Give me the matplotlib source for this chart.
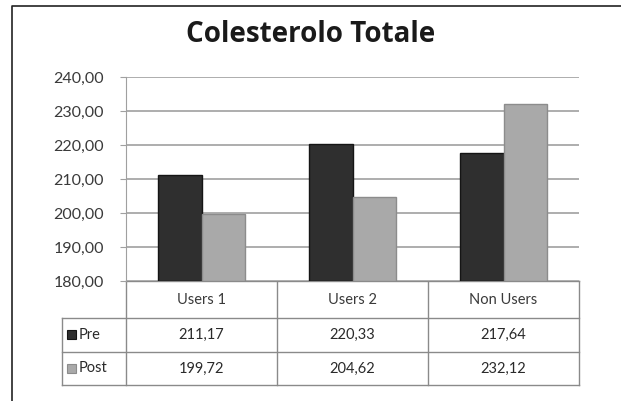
import numpy as np
import matplotlib
matplotlib.use('Agg')
import matplotlib.pyplot as plt
from matplotlib.patches import Rectangle

plt.rcParams['font.family'] = ['Lato', 'DejaVu Sans']

# dati
categorie = ['Users 1', 'Users 2', 'Non Users']
serie = ['Pre', 'Post']
pre = [211.17, 220.33, 217.64]
post = [199.72, 204.62, 232.12]
colori = ['#2f2f2f', '#a9a9a9']
bordi = ['#151515', '#8c8c8c']


def fmt(v):
    return ('%.2f' % v).replace('.', ',')


W, H = 621, 401
fig = plt.figure(figsize=(W / 100, H / 100), dpi=100)

# cornice esterna
over = fig.add_axes([0, 0, 1, 1])
over.set_xlim(0, W)
over.set_ylim(H, 0)
over.axis('off')
over.plot([12, 12, W], [H, 6, 6], color='#222222', lw=1.2)

# area grafico
x0, x1, ytop, ybot = 126, 579, 77, 281
ax = fig.add_axes([x0 / W, 1 - ybot / H, (x1 - x0) / W, (ybot - ytop) / H])
x = np.arange(len(categorie))
w = 0.29
valori = [pre, post]
for i in range(2):
    ax.bar(x + (i - 0.5) * w, np.array(valori[i]) - 180, bottom=180, width=w,
           color=colori[i], edgecolor=bordi[i], linewidth=1.0, zorder=3)
ax.set_xlim(-0.5, len(categorie) - 0.5)
ax.set_ylim(180, 240)
ax.set_yticks(np.arange(180, 241, 10))
ax.set_yticklabels([fmt(v) for v in np.arange(180, 241, 10)], fontsize=11.5, color='#3a3a3a')
ax.set_xticks([])
ax.grid(axis='y', color='#a0a0a0', lw=1.2, zorder=0)
for s in ['top', 'right', 'bottom']:
    ax.spines[s].set_visible(False)
ax.spines['left'].set_color('#a0a0a0')
ax.tick_params(axis='y', length=4, color='#a0a0a0', pad=12)

# titolo
fig.text(311 / W, 1 - 34 / H, 'Colesterolo Totale', ha='center', va='center',
         fontsize=20, fontweight='bold', color='#1a1a1a', family='Open Sans')

# tabella dati
col_w = (x1 - x0) / len(categorie)
righe = [281, 318, 352, 385]
lbl_x = 62
lc = '#8a8a8a'
over.plot([x0, x1], [righe[0], righe[0]], color=lc, lw=1)
for r in righe[1:]:
    over.plot([lbl_x, x1], [r, r], color=lc, lw=1)
over.plot([lbl_x, lbl_x], [righe[1], righe[3]], color=lc, lw=1)
for j in range(len(categorie) + 1):
    over.plot([x0 + j * col_w] * 2, [righe[0], righe[3]], color=lc, lw=1)

for j, c in enumerate(categorie):
    cx = x0 + (j + 0.5) * col_w
    over.text(cx, (righe[0] + righe[1]) / 2, c, ha='center', va='center',
              fontsize=10.5, color='#3a3a3a')
    for i in range(2):
        over.text(cx, (righe[i + 1] + righe[i + 2]) / 2, fmt(valori[i][j]),
                  ha='center', va='center', fontsize=10.5, color='#2a2a2a')

for i, s in enumerate(serie):
    cy = (righe[i + 1] + righe[i + 2]) / 2
    over.add_patch(Rectangle((67, cy - 5), 9, 9, facecolor=colori[i],
                             edgecolor=bordi[i], lw=0.8))
    over.text(79, cy, s, ha='left', va='center', fontsize=10.5, color='#2a2a2a')

fig.savefig('out.png', dpi=100)
